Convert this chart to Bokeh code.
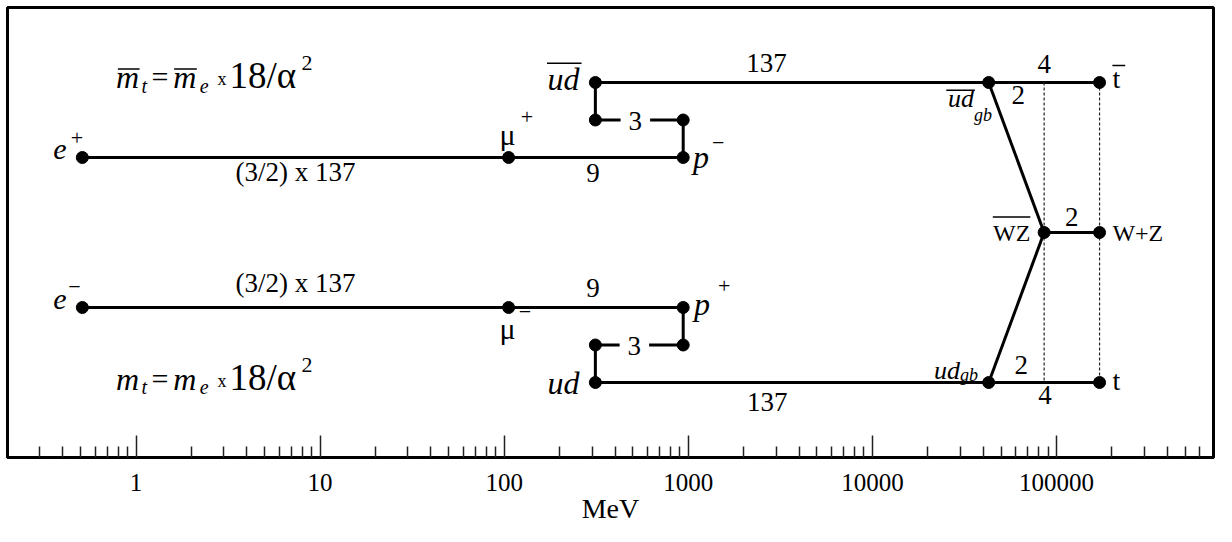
import math
from bokeh.plotting import figure
from bokeh.models import FixedTicker, ColumnDataSource
from bokeh.core.properties import value
from bokeh.embed import file_html
from bokeh.resources import INLINE

# ---------------- data (MeV, level) ----------------
node_names = ["e+", "mu+", "p-", "p-step", "udbar-step", "udbar", "udbar_gb", "tbar", "WZbar", "W+Z",
              "e-", "mu-", "p+", "p+step", "ud-step", "ud", "ud_gb", "t"]
node_mev = [0.511, 105.7, 938.3, 938.3, 312.8, 312.8, 42850, 171400, 85700, 171400,
            0.511, 105.7, 938.3, 938.3, 312.8, 312.8, 42850, 171400]
node_level = [6, 6, 6, 7, 7, 8, 8, 8, 4, 4,
              2, 2, 2, 1, 1, 0, 0, 0]

edges = [("e+", "mu+"), ("mu+", "p-"), ("p-", "p-step"), ("p-step", "udbar-step"),
         ("udbar-step", "udbar"), ("udbar", "udbar_gb"), ("udbar_gb", "tbar"),
         ("udbar_gb", "WZbar"), ("WZbar", "W+Z"),
         ("e-", "mu-"), ("mu-", "p+"), ("p+", "p+step"), ("p+step", "ud-step"),
         ("ud-step", "ud"), ("ud", "ud_gb"), ("ud_gb", "t"), ("ud_gb", "WZbar")]
dotted_edges = [("tbar", "t")]
dotted_extra_mev = [85700]          # vertical guide at WZ-bar mass
dotted_extra_levels = (8, 0)

major_ticks = [1, 10, 100, 1000, 10000, 100000]
tick_labels = ["1", "10", "100", "1000", "10000", "100000"]
minor_ticks = ([0.3, 0.4, 0.5, 0.6, 0.7, 0.8, 0.9]
               + [m * 10 ** k for k in range(0, 5) for m in range(2, 10)]
               + [200000, 300000, 400000, 500000, 600000])

# ---------------- layout ----------------
W, H = 1216, 526
SX, SY = W / 1232, H / 542
MIN_L, MIN_R, MIN_T, MIN_B = 7, 3, 7, 67
X0, X1 = 0.2004, 712800
Y0, Y1 = -2, 10
FRAME_W = W - MIN_L - MIN_R
FRAME_H = H - MIN_T - MIN_B
PPD = FRAME_W / (math.log10(X1) - math.log10(X0))
PPY = FRAME_H / (Y1 - Y0)
FONT = "Liberation Serif"

idx = {n: i for i, n in enumerate(node_names)}


def node(n):
    return node_mev[idx[n]], node_level[idx[n]]


def mid(a, b):
    (xa, ya), (xb, yb) = node(a), node(b)
    return math.sqrt(xa * xb), (ya + yb) / 2


def shx(x, dpx):
    return x * 10 ** (dpx * SX / PPD)


def shy(y, dpx):
    return y - dpx * SY / PPY


p = figure(width=W, height=H, x_axis_type="log", x_range=(X0, X1), y_range=(Y0, Y1),
           y_axis_location=None, output_backend="svg", toolbar_location=None,
           min_border_left=MIN_L, min_border_right=MIN_R, min_border_top=MIN_T,
           min_border_bottom=MIN_B)
p.outline_line_color = "black"
p.outline_line_width = 3
p.grid.visible = False
p.background_fill_color = "white"

ax = p.xaxis[0]
ax.ticker = FixedTicker(ticks=major_ticks, minor_ticks=minor_ticks)
ax.major_label_overrides = {float(v): s for v, s in zip(major_ticks, tick_labels)}
ax.axis_line_width = 3
ax.axis_line_color = "black"
ax.major_tick_in = 22
ax.major_tick_out = 0
ax.minor_tick_in = 11
ax.minor_tick_out = 0
ax.major_tick_line_width = 1.5
ax.minor_tick_line_width = 1.5
ax.major_tick_line_color = "#222222"
ax.minor_tick_line_color = "#222222"
ax.major_label_text_font = FONT
ax.major_label_text_font_size = "25px"
ax.major_label_text_color = "black"
ax.major_label_standoff = 16
ax.axis_label = "MeV"
ax.axis_label_text_font = FONT
ax.axis_label_text_font_size = "28px"
ax.axis_label_text_font_style = "normal"
ax.axis_label_text_color = "black"
ax.axis_label_standoff = -1

# ---------------- lines ----------------
seg = dict(x0=[], y0=[], x1=[], y1=[])
for a, b in edges:
    (xa, ya), (xb, yb) = node(a), node(b)
    seg["x0"].append(xa); seg["y0"].append(ya); seg["x1"].append(xb); seg["y1"].append(yb)
p.segment("x0", "y0", "x1", "y1", source=ColumnDataSource(seg), line_width=3, line_color="black")

dseg = dict(x0=[], y0=[], x1=[], y1=[])
for a, b in dotted_edges:
    (xa, ya), (xb, yb) = node(a), node(b)
    dseg["x0"].append(xa); dseg["y0"].append(ya); dseg["x1"].append(xb); dseg["y1"].append(yb)
for xm in dotted_extra_mev:
    dseg["x0"].append(xm); dseg["y0"].append(dotted_extra_levels[0])
    dseg["x1"].append(xm); dseg["y1"].append(dotted_extra_levels[1])
p.segment("x0", "y0", "x1", "y1", source=ColumnDataSource(dseg), line_width=1.2,
          line_color="#222222", line_dash="3 2")

# ---------------- labels (anchor, text, dx, dy, align, size, style) ----------------
MU, MINUS, ALPHA = "\u03bc", "\u2212", "\u03b1"
labels = [
    (node("e+"), "e", -16, -8, "right", 30, "italic"),
    (node("e+"), "+", -5.5, -20, "center", 22, "normal"),
    (node("mu+"), MU, -1, -24, "center", 30, "normal"),
    (node("mu+"), "+", 18.5, -42, "center", 22, "normal"),
    (mid("e+", "mu+"), "(3/2) x 137", 0, 15, "center", 27, "normal"),
    (mid("mu+", "p-"), "9", -3, 16, "center", 27, "normal"),
    (node("p-"), "p", 10, -1, "left", 32, "italic"),
    (node("p-"), MINUS, 35.5, -15, "center", 22, "normal"),
    (node("udbar"), "ud", -16, -4, "right", 32, "italic"),
    (mid("udbar", "udbar_gb"), "137", -26, -20, "center", 27, "normal"),
    (node("udbar_gb"), "ud", -15, 16.5, "right", 26, "italic"),
    (node("udbar_gb"), "gb", -15, 33, "left", 18, "italic"),
    (node("udbar_gb"), "2", 30, 13, "center", 27, "normal"),
    (mid("udbar_gb", "tbar"), "4", 0, -19, "center", 27, "normal"),
    (node("tbar"), "t", 13, -4, "left", 28, "normal"),
    (node("WZbar"), "WZ", -14, 0, "right", 24, "normal"),
    (mid("WZbar", "W+Z"), "2", 0, -16, "center", 27, "normal"),
    (node("W+Z"), "W+Z", 13, 0, "left", 24, "normal"),
    (node("e-"), "e", -16, -8, "right", 30, "italic"),
    (node("e-"), MINUS, -8, -21, "center", 22, "normal"),
    (node("mu-"), MU, -1, 22, "center", 30, "normal"),
    (node("mu-"), MINUS, 16.5, 5, "center", 22, "normal"),
    (mid("e-", "mu-"), "(3/2) x 137", 0, -25, "center", 27, "normal"),
    (mid("mu-", "p+"), "9", -3, -20, "center", 27, "normal"),
    (node("p+"), "p", 11, -3.5, "left", 32, "italic"),
    (node("p+"), "+", 41.5, -22, "center", 22, "normal"),
    (node("ud"), "ud", -16, 0, "right", 32, "italic"),
    (mid("ud", "ud_gb"), "137", -25, 20, "center", 27, "normal"),
    (node("ud_gb"), "ud", -29, -12, "right", 26, "italic"),
    (node("ud_gb"), "gb", -29, -8, "left", 18, "italic"),
    (node("ud_gb"), "2", 33, -18, "center", 27, "normal"),
    (mid("ud_gb", "t"), "4", 1, 13, "center", 27, "normal"),
    (node("t"), "t", 13, -2, "left", 28, "normal"),
]
# formulas anchored at the electron mass, top and bottom rows
e_mev = node("e+")[0]
for lev, dm, dsub, dsup in ((8, -6, 4, -20), (0, -4, 5, -18)):
    a = (e_mev, lev)
    labels += [
        (a, "m", 34, dm, "left", 32, "italic"),
        (a, "t", 60, dsub, "left", 20, "italic"),
        (a, "=", 70, dm, "left", 30, "normal"),
        (a, "m", 92, dm, "left", 32, "italic"),
        (a, "e", 119, dsub, "left", 20, "italic"),
        (a, "x", 137, dm + 2, "left", 18, "normal"),
        (a, "18/" + ALPHA, 149, dm - 1, "left", 37, "normal"),
        (a, "2", 222, dsup, "left", 22, "normal"),
    ]

lab = dict(x=[], y=[], text=[], dx=[], dy=[], align=[], size=[], style=[])
for (ax_, ay_), t, dx, dy, al, sz, st in labels:
    lab["x"].append(ax_); lab["y"].append(ay_); lab["text"].append(t)
    lab["dx"].append(dx * SX); lab["dy"].append(dy * SY); lab["align"].append(al)
    lab["size"].append(f"{sz}px"); lab["style"].append(st)
p.text("x", "y", text="text", x_offset="dx", y_offset="dy", text_align="align",
       text_baseline="middle", text_font_size="size", text_font_style="style",
       text_font=value(FONT), text_color="black", source=ColumnDataSource(lab))

# the "3" labels sit in a gap of their segment
three = dict(x=[], y=[], text=[])
for (a, b), dx in ((("p-step", "udbar-step"), -4), (("p+step", "ud-step"), -5)):
    xm, ym = mid(a, b)
    three["x"].append(shx(xm, dx)); three["y"].append(shy(ym, 1)); three["text"].append("3")
p.text("x", "y", text="text", source=ColumnDataSource(three), text_align="center",
       text_baseline="middle", text_font=value(FONT), text_font_size=value("27px"),
       text_color="black", background_fill_color="white", padding=8)

# ---------------- overlines ----------------
overlines = [
    ((e_mev, 8), 36, 58, -14),
    ((e_mev, 8), 93, 116, -14),
    (node("udbar"), -49, -14, -20),
    (node("udbar_gb"), -43, -14, 8),
    (node("tbar"), 13, 26, -17.7),
    (node("WZbar"), -52, -14, -16),
]
ol = dict(x0=[], x1=[], y=[])
for (xa, ya), d0, d1, dy in overlines:
    ol["x0"].append(shx(xa, d0)); ol["x1"].append(shx(xa, d1)); ol["y"].append(shy(ya, dy))
p.segment("x0", "y", "x1", "y", source=ColumnDataSource(ol), line_width=1.5, line_color="black")

# ---------------- nodes ----------------
p.scatter(node_mev, node_level, size=12, color="black")

open("out.html", "w").write(file_html(p, INLINE))
